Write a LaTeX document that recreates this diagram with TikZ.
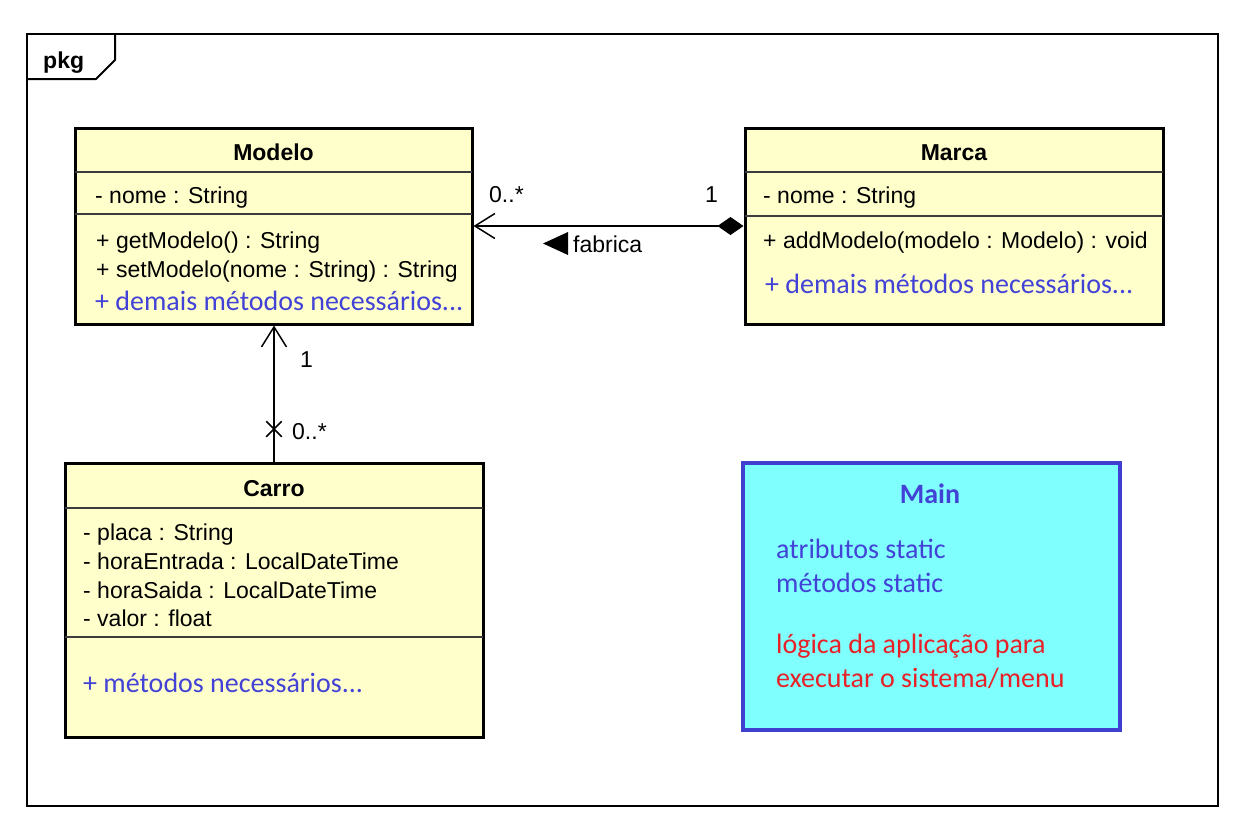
\documentclass[tikz,border=0pt]{standalone}
\usepackage{fontspec}
\setmainfont{Liberation Sans}
\newfontfamily\calfont{Carlito}
\usetikzlibrary{arrows.meta,shapes.misc}
\definecolor{umlyellow}{RGB}{255,255,204}
\definecolor{umlblue}{RGB}{66,66,214}
\definecolor{mainblue}{RGB}{64,64,208}
\definecolor{maincyan}{RGB}{128,255,255}
\definecolor{umlred}{RGB}{232,32,40}
\definecolor{sepgray}{RGB}{60,60,60}
\begin{document}
\begin{tikzpicture}[x=1pt,y=-1pt,
  classbox/.style={draw,line width=3pt,fill=umlyellow,inner sep=0pt},
  compsep/.style={draw=sepgray,line width=1.5pt},
  title/.style={anchor=base,inner sep=0pt,font=\fontsize{23}{28}\selectfont\bfseries},
  member/.style={anchor=base west,inner sep=0pt,font=\fontsize{23}{28}\selectfont},
  extra/.style={anchor=base west,inner sep=0pt,text=umlblue,font=\calfont\fontsize{28}{34}\selectfont},
  assoc/.style={line width=1.5pt},
  nav/.style={-{Straight Barb[length=20pt,width=25pt]}}]
\fill[white] (0,0) rectangle (1251,831);
\useasboundingbox (0,0) rectangle (1251,831);
% package frame
\draw[line width=2pt] (27,34) rectangle (1218,806);
\draw[line width=2pt] (27,79) -- (96,79) -- (115,60) -- (115,34);
\node[title,anchor=base west] (pkg) at (43,68) {pkg};

% Modelo
\node[classbox,minimum width=397pt,minimum height=196pt] (modelo) at (273.5,226) {};
\draw[compsep] (75,172) -- (472,172);
\draw[compsep] (75,214) -- (472,214);
\node[title] (modeloTit) at (273.5,160) {Modelo};
\node[member] (modeloNome) at (95,203) {- nome : String};
\node[member] (modeloGet) at (96,248) {+ getModelo() : String};
\node[member] (modeloSet) at (96,277) {+ setModelo(nome : String) : String};
\node[extra] (modeloMais) at (95,310) {+ demais métodos necessários...};

% Marca
\node[classbox,minimum width=418pt,minimum height=196pt] (marca) at (954,226) {};
\draw[compsep] (745,172) -- (1163,172);
\draw[compsep] (745,216) -- (1163,216);
\node[title] (marcaTit) at (954,160) {Marca};
\node[member] (marcaNome) at (763,203) {- nome : String};
\node[member] (marcaAdd) at (763,248) {+ addModelo(modelo : Modelo) : void};
\node[extra] (marcaMais) at (765,293) {+ demais métodos necessários...};

% Carro
\node[classbox,minimum width=418pt,minimum height=274pt] (carro) at (274,600) {};
\draw[compsep] (65,508) -- (483,508);
\draw[compsep] (65,637) -- (483,637);
\node[title] (carroTit) at (274,496) {Carro};
\node[member] (carroPlaca) at (83,540) {- placa : String};
\node[member] (carroEntrada) at (83,569) {- horaEntrada : LocalDateTime};
\node[member] (carroSaida) at (83,598) {- horaSaida : LocalDateTime};
\node[member] (carroValor) at (83,626) {- valor : float};
\node[extra] (carroMet) at (83,692) {+ métodos necessários...};

% Main
\node[draw=mainblue,line width=4pt,fill=maincyan,minimum width=377pt,minimum height=267pt] (main) at (931.5,596.5) {};
\node[extra,anchor=base,font=\calfont\bfseries\fontsize{28}{34}\selectfont] (mainTit) at (930,503) {Main};
\node[extra] (mainAtr) at (776,558) {atributos static};
\node[extra] (mainMet) at (776,592) {métodos static};
\node[extra,text=umlred] (mainLog1) at (776,653) {lógica da aplicação para};
\node[extra,text=umlred] (mainLog2) at (776,687) {executar o sistema/menu};

% associations
\draw[assoc,{Diamond[length=26pt,width=18pt]}-{Straight Barb[length=20pt,width=25pt]}] (marca.west) -- (modelo.east);
\node[member] (multModelo) at (489,202) {0..*};
\node[member] (multMarca) at (705,202) {1};
\node[member] (fabrica) at (573,252) {fabrica};
\fill (543,243.5) -- (568,232) -- (568,255) -- cycle;

\draw[assoc,nav] (carro.north) -- (carro.north |- modelo.south);
\node[cross out,draw,line width=1.5pt,minimum size=14pt,inner sep=0pt] (navx) at (274,429) {};
\node[member] (multUm) at (300,367) {1};
\node[member] (multCarro) at (292,439) {0..*};
\end{tikzpicture}
\end{document}
